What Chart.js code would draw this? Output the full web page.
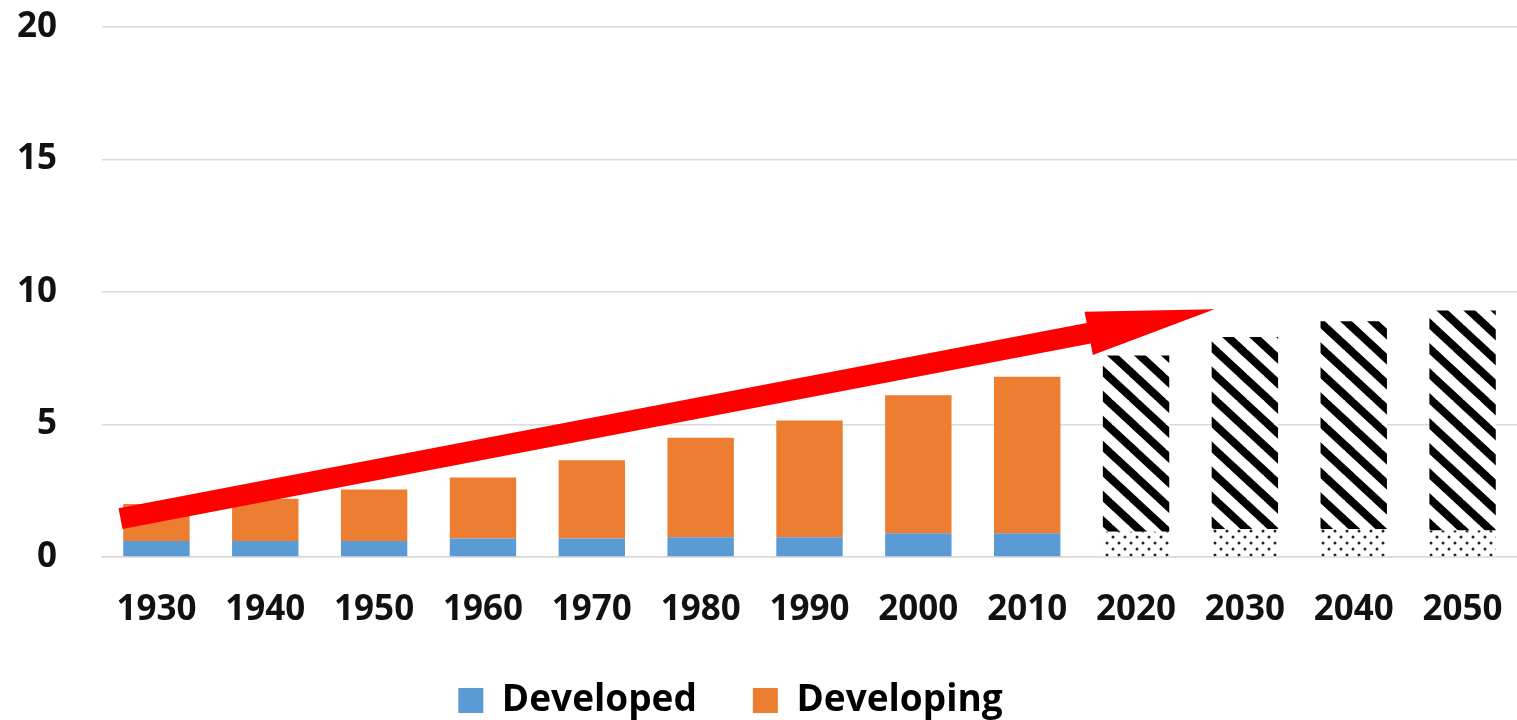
<!DOCTYPE html>
<html>
<head>
<meta charset="utf-8">
<script src="https://cdn.jsdelivr.net/npm/chart.js@4"></script>
<style>
  body { margin: 0; background: #fff; }
  #wrap { width: 1517px; height: 720px; position: relative; }
</style>
</head>
<body>
<div id="wrap"><canvas id="myChart"></canvas></div>
<script>
const years = ['1930', '1940', '1950', '1960', '1970', '1980', '1990', '2000', '2010', '2020', '2030', '2040', '2050'];
const developed = [0.6, 0.6, 0.6, 0.7, 0.7, 0.75, 0.75, 0.9, 0.9, 0.95, 1.05, 1.05, 1.0];
const developing = [1.4, 1.6, 1.95, 2.3, 2.95, 3.75, 4.4, 5.2, 5.9, 6.65, 7.25, 7.85, 8.3];
const projected = [false, false, false, false, false, false, false, false, false, true, true, true, true];
const yTicks = [0, 5, 10, 15, 20];
// arrow from / to, in (category index, value)
const arrowFrom = [-0.33, 1.45];
const arrowTo = [9.72, 9.35];

// patterns for the projected bars
function stripes() {
  const w = 27, h = 25;
  const c = document.createElement('canvas');
  c.width = w; c.height = h;
  const g = c.getContext('2d');
  g.fillStyle = '#fff';
  g.fillRect(0, 0, w, h);
  g.strokeStyle = '#000';
  g.lineWidth = 8;
  for (let o = -w; o <= w; o += w) {
    g.beginPath();
    g.moveTo(o - w * 0.1, -h * 0.1);
    g.lineTo(o + w * 1.1, h * 1.1);
    g.stroke();
  }
  return g.createPattern(c, 'repeat');
}
function dots() {
  const c = document.createElement('canvas');
  c.width = 12; c.height = 12;
  const g = c.getContext('2d');
  g.fillStyle = '#fff';
  g.fillRect(0, 0, 12, 12);
  g.fillStyle = '#222';
  g.beginPath(); g.arc(3, 3, 1.5, 0, Math.PI * 2); g.fill();
  g.beginPath(); g.arc(9, 9, 1.5, 0, Math.PI * 2); g.fill();
  return g.createPattern(c, 'repeat');
}
const stripePat = stripes();
const dotPat = dots();

const arrowPlugin = {
  id: 'arrow',
  afterLayout(chart) {
    // legend sits a bit left of centre in the original
    chart.legend.left -= 28;
    chart.legend.right -= 28;
  },
  afterDatasetsDraw(chart) {
    const xs = chart.scales.x, ys = chart.scales.y, ctx = chart.ctx;
    const x1 = xs.getPixelForValue(arrowFrom[0]), y1 = ys.getPixelForValue(arrowFrom[1]);
    const x2 = xs.getPixelForValue(arrowTo[0]), y2 = ys.getPixelForValue(arrowTo[1]);
    const len = Math.hypot(x2 - x1, y2 - y1);
    const ux = (x2 - x1) / len, uy = (y2 - y1) / len;
    const px = -uy, py = ux;
    const shaft = 10.5, head = 22, headLen = 128;
    const bx = x2 - ux * headLen, by = y2 - uy * headLen;
    ctx.save();
    ctx.fillStyle = '#ff0000';
    ctx.beginPath();
    ctx.moveTo(x1 + px * shaft, y1 + py * shaft);
    ctx.lineTo(bx + px * shaft, by + py * shaft);
    ctx.lineTo(bx + px * head, by + py * head);
    ctx.lineTo(x2, y2);
    ctx.lineTo(bx - px * head, by - py * head);
    ctx.lineTo(bx - px * shaft, by - py * shaft);
    ctx.lineTo(x1 - px * shaft, y1 - py * shaft);
    ctx.closePath();
    ctx.fill();
    ctx.restore();
  }
};

const font = { family: '"Open Sans", "Liberation Sans", sans-serif', size: 35, weight: 'bold' };

const ctx = document.getElementById('myChart').getContext('2d');
const myChart = new Chart(ctx, {
  type: 'bar',
  data: {
    labels: years,
    datasets: [{
      label: 'Developed',
      data: developed,
      backgroundColor: projected.map(p => p ? dotPat : '#5b9bd5')
    }, {
      label: 'Developing',
      data: developing,
      backgroundColor: projected.map(p => p ? stripePat : '#ed7d31')
    }]
  },
  options: {
    responsive: true,
    maintainAspectRatio: false,
    animation: false,
    layout: { padding: { left: 0, right: 0, top: 0, bottom: -9 } },
    datasets: { bar: { categoryPercentage: 0.61, barPercentage: 1 } },
    scales: {
      x: {
        stacked: true,
        grid: { display: false },
        border: { display: true, color: '#d9d9d9', width: 1.5 },
        ticks: { font: font, color: '#111', padding: 24, maxRotation: 0 },
        afterFit(axis) { axis.paddingLeft = 0; axis.paddingRight = 0; axis.height = 69; }
      },
      y: {
        stacked: true,
        min: 0,
        max: 20,
        afterBuildTicks(axis) { axis.ticks = yTicks.map(v => ({ value: v })); },
        grid: { color: '#d9d9d9', lineWidth: 1.5, drawTicks: false },
        border: { display: false },
        ticks: { font: font, color: '#111', padding: 45 },
        afterFit(axis) { axis.paddingTop = 27; axis.paddingBottom = 0; axis.width = 102; }
      }
    },
    plugins: {
      tooltip: { enabled: false },
      legend: {
        position: 'bottom',
        labels: {
          font: { family: font.family, size: 37, weight: 'bold' },
          color: '#111',
          boxWidth: 25,
          boxHeight: 25,
          padding: 56,
          generateLabels(chart) {
            return [
              { text: 'Developed', fillStyle: '#5b9bd5', strokeStyle: '#5b9bd5', lineWidth: 0, datasetIndex: 0 },
              { text: 'Developing', fillStyle: '#ed7d31', strokeStyle: '#ed7d31', lineWidth: 0, datasetIndex: 1 }
            ];
          }
        }
      }
    }
  },
  plugins: [arrowPlugin]
});
</script>
</body>
</html>
